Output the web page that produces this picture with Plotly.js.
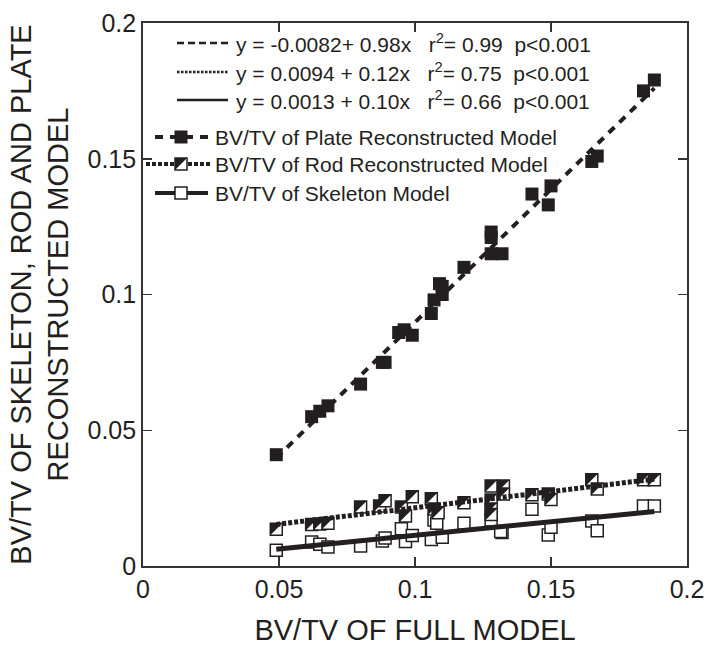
<!DOCTYPE html>
<html>
<head>
<meta charset="utf-8">
<script src="https://cdn.plot.ly/plotly-3.0.1.min.js"></script>
<style>html,body{margin:0;padding:0;background:#fff;}#chart{width:714px;height:655px;}</style>
</head>
<body>
<div id="chart"></div>
<script>
// ---- data ----
const plateX = [0.049,0.062,0.065,0.068,0.080,0.088,0.089,0.094,0.096,0.099,0.106,0.107,0.109,0.110,0.110,0.118,0.128,0.128,0.128,0.132,0.143,0.149,0.150,0.165,0.167,0.184,0.188];
const plateY = [0.041,0.055,0.057,0.059,0.067,0.075,0.075,0.086,0.087,0.085,0.093,0.098,0.104,0.103,0.100,0.110,0.123,0.121,0.115,0.115,0.137,0.133,0.140,0.149,0.151,0.175,0.179];

const rodX = [0.049,0.062,0.065,0.068,0.080,0.087,0.089,0.095,0.0965,0.099,0.106,0.107,0.1085,0.118,0.128,0.1325,0.128,0.128,0.128,0.1325,0.143,0.149,0.150,0.165,0.167,0.184,0.188];
const rodY = [0.0135,0.0153,0.0155,0.0157,0.0217,0.0221,0.0240,0.0217,0.0184,0.0255,0.0248,0.0210,0.0196,0.0233,0.0295,0.0295,0.0243,0.0210,0.0190,0.0265,0.0262,0.0265,0.0245,0.0318,0.0284,0.0318,0.0318];

const skelX = [0.049,0.062,0.065,0.068,0.080,0.088,0.089,0.095,0.0965,0.099,0.106,0.107,0.108,0.110,0.118,0.128,0.132,0.1315,0.143,0.149,0.150,0.165,0.167,0.184,0.188];
const skelY = [0.0058,0.0088,0.0080,0.0070,0.0074,0.0092,0.0103,0.0137,0.0090,0.0112,0.0098,0.0169,0.0157,0.0106,0.0157,0.0169,0.0123,0.0127,0.0209,0.0114,0.0143,0.0166,0.0130,0.0221,0.0221];

// regression lines (end points)
const fitX = [0.049, 0.188];
const plateFitY = [0.0398, 0.1760];
const rodFitY = [0.0153, 0.0320];
const skelFitY = [0.0062, 0.0201];

const tickVals = [0, 0.05, 0.1, 0.15, 0.2];
const tickText = ['0', '0.05', '0.1', '0.15', '0.2'];

const eqText = [
  'y = -0.0082+ 0.98x&nbsp;&nbsp;&nbsp;r<sup>2</sup>= 0.99&nbsp;&nbsp;p&lt;0.001',
  'y = 0.0094 + 0.12x&nbsp;&nbsp;&nbsp;r<sup>2</sup>= 0.75&nbsp;&nbsp;p&lt;0.001',
  'y = 0.0013 + 0.10x&nbsp;&nbsp;&nbsp;r<sup>2</sup>= 0.66&nbsp;&nbsp;p&lt;0.001'
];
const seriesNames = [
  'BV/TV of Plate Reconstructed Model',
  'BV/TV of Rod Reconstructed Model',
  'BV/TV of Skeleton Model'
];

// ---- styling ----
const INK = '#231f20';
const AX = '#333333';
const FONT = '"Liberation Sans", Arial, Helvetica, sans-serif';
const ML = 143, MR = 27, MT = 23, MB = 89, W = 714, H = 655;
const PW = W - ML - MR, PH = H - MT - MB;
const px = v => (v - ML) / PW;
const py = v => (H - MB - v) / PH;
const MS = 12;           // marker size
const HALF = 6;          // half marker side in px

const plateDash = '8px,7px';
const rodDash = '4px,2px';

const traces = [
  { x: skelX, y: skelY, type: 'scatter', mode: 'markers', showlegend: false,
    marker: { symbol: 'square', size: MS, color: '#ffffff', line: { color: INK, width: 1.5 } } },
  { x: fitX, y: skelFitY, type: 'scatter', mode: 'lines', showlegend: false,
    line: { color: INK, width: 5 } },
  { x: rodX, y: rodY, type: 'scatter', mode: 'markers', showlegend: false,
    marker: { symbol: 'square', size: MS, color: '#ffffff', line: { color: INK, width: 1.5 } } },
  { x: fitX, y: rodFitY, type: 'scatter', mode: 'lines', showlegend: false,
    line: { color: INK, width: 5, dash: rodDash } },
  { x: plateX, y: plateY, type: 'scatter', mode: 'markers', showlegend: false,
    marker: { symbol: 'square', size: MS + 1, color: INK, line: { width: 0 } } },
  { x: fitX, y: plateFitY, type: 'scatter', mode: 'lines', showlegend: false,
    line: { color: INK, width: 4, dash: plateDash } }
];

const shapes = [];
// half-filled rod markers (black upper-left triangle), anchored at the data points
const triPath = `M${-HALF},${HALF} L${HALF},${HALF} L${-HALF},${-HALF} Z`;
rodX.forEach((xv, i) => {
  shapes.push({ type: 'path', xref: 'x', yref: 'y', xsizemode: 'pixel', ysizemode: 'pixel',
    xanchor: xv, yanchor: rodY[i], path: triPath, fillcolor: INK, line: { width: 0 } });
});

// ---- legend (built manually) ----
const annotations = [];
const eqRowsY = [43, 72, 100];
const eqLineX = [177, 228];
const eqDash = ['7px,4px', '2.5px,1.5px', 'solid'];
eqText.forEach((t, i) => {
  shapes.push({ type: 'line', xref: 'paper', yref: 'paper', x0: px(eqLineX[0]), x1: px(eqLineX[1]),
    y0: py(eqRowsY[i]), y1: py(eqRowsY[i]), line: { color: INK, width: 2.5, dash: eqDash[i] } });
  annotations.push({ xref: 'paper', yref: 'paper', x: px(234), y: py(eqRowsY[i]), xanchor: 'left', yanchor: 'middle',
    text: t, showarrow: false, font: { family: FONT, size: 21, color: INK } });
});
const serRowsY = [137, 164, 193];
const serLineX = [[155, 208], [146, 212], [155, 208]];
const serDash = [plateDash, rodDash, 'solid'];
const markerCx = 181;
seriesNames.forEach((t, i) => {
  shapes.push({ type: 'line', xref: 'paper', yref: 'paper', x0: px(serLineX[i][0]), x1: px(serLineX[i][1]),
    y0: py(serRowsY[i]), y1: py(serRowsY[i]), line: { color: INK, width: 4, dash: serDash[i] } });
  const base = { type: 'rect', xref: 'paper', yref: 'paper', xsizemode: 'pixel', ysizemode: 'pixel',
    xanchor: px(markerCx), yanchor: py(serRowsY[i]), x0: -HALF, x1: HALF, y0: -HALF, y1: HALF };
  if (i === 0) {
    shapes.push(Object.assign({}, base, { x0: -HALF - 0.5, x1: HALF + 0.5, y0: -HALF - 0.5, y1: HALF + 0.5, fillcolor: INK, line: { width: 0 } }));
  } else {
    shapes.push(Object.assign({}, base, { fillcolor: '#ffffff', line: { color: INK, width: 1.5 } }));
    if (i === 1) {
      shapes.push({ type: 'path', xref: 'paper', yref: 'paper', xsizemode: 'pixel', ysizemode: 'pixel',
        xanchor: px(markerCx), yanchor: py(serRowsY[i]), path: triPath, fillcolor: INK, line: { width: 0 } });
    }
  }
  annotations.push({ xref: 'paper', yref: 'paper', x: px(213), y: py(serRowsY[i]), xanchor: 'left', yanchor: 'middle',
    text: t, showarrow: false, font: { family: FONT, size: 21, color: INK } });
});

const axisCommon = {
  range: [0, 0.2], tickmode: 'array', tickvals: tickVals, ticktext: tickText,
  ticks: 'inside', ticklen: 9, tickwidth: 1.5, tickcolor: AX,
  showline: true, linecolor: AX, linewidth: 1.8, mirror: 'ticks',
  showgrid: false, zeroline: false,
  tickfont: { family: FONT, size: 25, color: INK }
};

const layout = {
  width: W, height: H,
  margin: { l: ML, r: MR, t: MT, b: MB, pad: 0 },
  paper_bgcolor: '#ffffff', plot_bgcolor: '#ffffff',
  showlegend: false,
  font: { family: FONT, color: INK },
  xaxis: Object.assign({}, axisCommon, {
    title: { text: 'BV/TV OF FULL MODEL', font: { family: FONT, size: 29, color: INK }, standoff: 18 }
  }),
  yaxis: Object.assign({}, axisCommon, {
    title: { text: 'BV/TV OF SKELETON, ROD AND PLATE<br>RECONSTRUCTED MODEL', font: { family: FONT, size: 29, color: INK }, standoff: 10 }
  }),
  shapes: shapes,
  annotations: annotations
};

Plotly.newPlot('chart', traces, layout, { displayModeBar: false, staticPlot: true });
</script>
</body>
</html>
